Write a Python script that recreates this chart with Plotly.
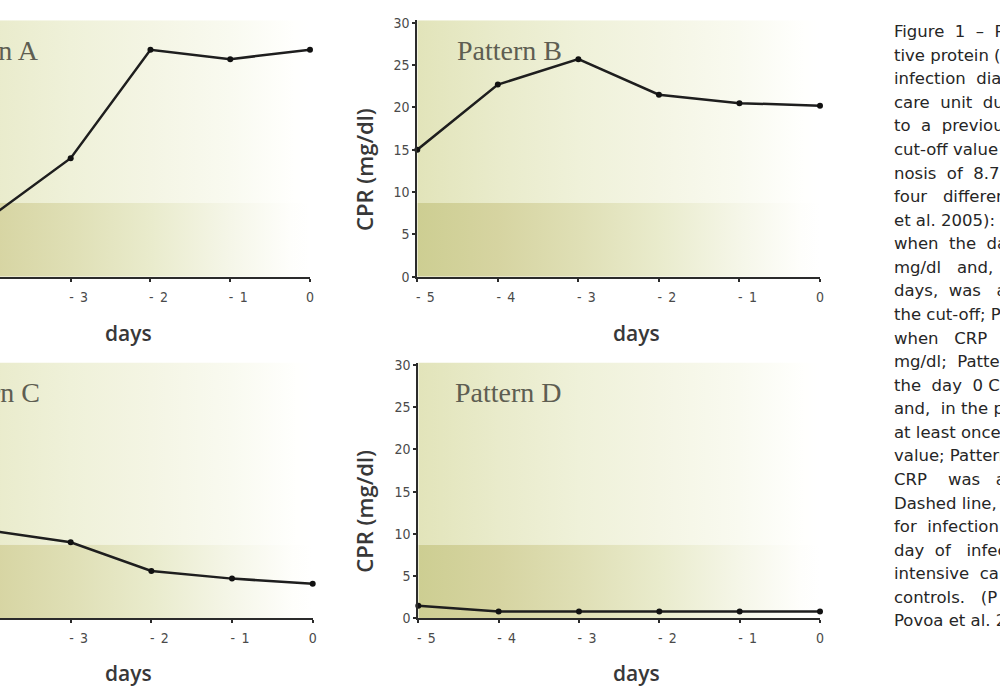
import plotly.graph_objects as go

# ---------------- data ----------------
days = [-5, -4, -3, -2, -1, 0]
days_ac = [-4, -3, -2, -1, 0]          # visible part of the cropped left panels
day_ticktext = ["\u2007\u2007-\u2002" + str(abs(d)) if d < 0 else "0" for d in days]
crp_a = [7.1, 14.0, 26.8, 25.7, 26.8]
crp_b = [15.0, 22.7, 25.7, 21.5, 20.5, 20.2]
crp_c = [10.4, 9.0, 5.6, 4.7, 4.1]
crp_d = [1.5, 0.8, 0.8, 0.8, 0.8, 0.8]
cutoff = 8.7
band_top = 30.3
y_ticks = [0, 5, 10, 15, 20, 25, 30]
panel_names = ["Pattern A", "Pattern B", "Pattern C", "Pattern D"]
# '_' marks an extra (justification) space
caption_lines = [
    "Figure_ 1_ –_ Patterns", "tive protein (CRP)", "infection_ diagnosis",
    "care_ unit_ during", "to_ a_ previously", "cut-off value of",
    "nosis_ of_ 8.7_ mg/dl", "four__ different", "et al. 2005):",
    "when_ the_ day", "mg/dl__ and,", "days,_ was__ always", "the cut-off; Pattern",
    "when__ CRP___ was", "mg/dl;_ Pattern", "the_ day_ 0 CRP", "and,_ in the previous",
    "at least once", "value; Pattern", "CRP___ was__ always", "Dashed line,",
    "for_ infection", "day_ of__ infection", "intensive_ care", "controls.__ (P",
    "Povoa et al. 2005",
]

# ---------------- styles ----------------
upper_cs = [[0, "rgb(226,228,186)"], [0.2, "rgb(233,235,203)"], [0.4, "rgb(239,241,217)"],
            [0.6, "rgb(244,245,228)"], [0.8, "rgb(249,250,240)"], [0.96, "rgb(255,255,253)"],
            [1, "rgb(255,255,255)"]]
lower_cs = [[0, "rgb(205,206,146)"], [0.2, "rgb(214,212,161)"], [0.4, "rgb(223,223,181)"],
            [0.6, "rgb(233,235,204)"], [0.8, "rgb(245,246,232)"], [0.95, "rgb(254,254,251)"],
            [1, "rgb(255,255,255)"]]
tick_font = dict(family="DejaVu Sans Condensed, Liberation Sans Narrow, DejaVu Sans", size=14, color="#4a4a4a")
title_font = dict(family="Open Sans", size=21, color="#383838", weight=600)
serif_font = dict(family="Liberation Serif, DejaVu Serif", size=28, color="#5e5e52")
line_col = "#2b2b2b"

fig = go.Figure()

panels = [
    ("x", "y", days_ac, crp_a),
    ("x2", "y2", days, crp_b),
    ("x3", "y3", days_ac, crp_c),
    ("x4", "y4", days, crp_d),
]

for xa, ya, xs, ys in panels:
    fig.add_trace(go.Scatter(
        x=[days[0], days[-1], days[-1], days[0]], y=[cutoff, cutoff, band_top, band_top],
        fill="toself", mode="none", xaxis=xa, yaxis=ya, hoverinfo="skip", showlegend=False,
        fillgradient=dict(type="horizontal", colorscale=upper_cs, start=days[0], stop=days[-1])))
    fig.add_trace(go.Scatter(
        x=[days[0], days[-1], days[-1], days[0]], y=[0, 0, cutoff, cutoff],
        fill="toself", mode="none", xaxis=xa, yaxis=ya, hoverinfo="skip", showlegend=False,
        fillgradient=dict(type="horizontal", colorscale=lower_cs, start=days[0], stop=days[-1])))
    fig.add_trace(go.Scatter(
        x=xs, y=ys, mode="lines+markers", xaxis=xa, yaxis=ya, showlegend=False,
        line=dict(color="#1e1e1e", width=2.5), marker=dict(color="#111111", size=6),
        cliponaxis=False))

def xaxis_cfg(domain, rng):
    return dict(domain=domain, range=rng, tickvals=days, ticktext=day_ticktext,
                ticks="outside", ticklen=3, tickwidth=1.5, tickcolor=line_col,
                showline=True, linewidth=2, linecolor=line_col, showgrid=False,
                zeroline=False, tickfont=tick_font, ticklabelstandoff=3, automargin=False)

def yaxis_cfg(domain, anchor, visible=True):
    return dict(domain=domain, range=[0, band_top], tickvals=y_ticks, anchor=anchor,
                ticks="outside", ticklen=3, tickwidth=1.5, tickcolor=line_col,
                showline=True, linewidth=2, linecolor=line_col, showgrid=False,
                zeroline=False, tickfont=tick_font, visible=visible, automargin=False)

top_dom = [1 - 276.7 / 700, 1 - 20.2 / 700]
bot_dom = [1 - 618.3 / 700, 1 - 362.5 / 700]

fig.update_layout(
    width=1000, height=700, margin=dict(l=0, r=0, t=0, b=0, pad=0, autoexpand=False),
    paper_bgcolor="white", plot_bgcolor="rgba(0,0,0,0)", showlegend=False,
    xaxis=dict(**xaxis_cfg([0, 0.310], [-3.886, 0]), anchor="y"),
    yaxis=yaxis_cfg(top_dom, "x", visible=False),
    xaxis2=dict(**xaxis_cfg([0.4173, 0.820], [-5, 0]), anchor="y2"),
    yaxis2=yaxis_cfg(top_dom, "x2"),
    xaxis3=dict(**xaxis_cfg([0, 0.3127], [-3.876, 0]), anchor="y3"),
    yaxis3=yaxis_cfg(bot_dom, "x3", visible=False),
    xaxis4=dict(**xaxis_cfg([0.4183, 0.820], [-5, 0]), anchor="y4"),
    yaxis4=yaxis_cfg(bot_dom, "x4"),
)

ann = []
ann.append(dict(x=-3.372, y=26.7, xref="x", yref="y", text=panel_names[0], xanchor="right", yanchor="middle", showarrow=False, font=serif_font))
ann.append(dict(x=-4.532, y=26.7, xref="x2", yref="y2", text=panel_names[1], xanchor="left", yanchor="middle", showarrow=False, font=serif_font))
ann.append(dict(x=-3.359, y=26.7, xref="x3", yref="y3", text=panel_names[2], xanchor="right", yanchor="middle", showarrow=False, font=serif_font))
ann.append(dict(x=-4.568, y=26.7, xref="x4", yref="y4", text=panel_names[3], xanchor="left", yanchor="middle", showarrow=False, font=serif_font))
for xr, yp in [("x", 1 - 333 / 700), ("x2", 1 - 333 / 700), ("x3", 1 - 673 / 700), ("x4", 1 - 673 / 700)]:
    ann.append(dict(x=-2.28, y=yp, xref=xr, yref="paper", text="days", showarrow=False,
                    xanchor="center", yanchor="middle", font=title_font))
for yp in [1 - 170 / 700, 1 - 511.7 / 700]:
    ann.append(dict(x=0.364, y=yp, xref="paper", yref="paper", text="CPR (mg/dl)", textangle=-90,
                    showarrow=False, xanchor="center", yanchor="middle", font=dict(title_font, size=22)))
for i, line in enumerate(caption_lines):
    ann.append(dict(x=0.892, y=1 - (31.7 + i * 23.57) / 700, xref="paper", yref="paper",
                    text=line.replace("_", "\u00a0"), showarrow=False, xanchor="left", yanchor="middle",
                    font=dict(family="DejaVu Sans", size=16.5, color="#262626")))
fig.update_layout(annotations=ann)

fig.write_html(
    "out.html",
    config={"displayModeBar": False},
    post_script="document.documentElement.style.margin='0';document.body.style.margin='0';"
                "document.body.style.overflow='hidden';document.documentElement.style.overflow='hidden';",
)
